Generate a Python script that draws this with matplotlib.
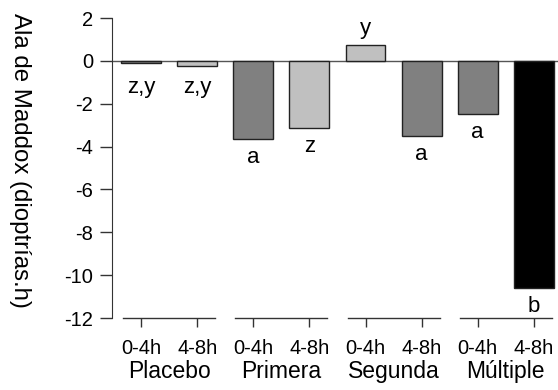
import numpy as np
import matplotlib.pyplot as plt
import matplotlib.transforms as mtransforms

plt.rcParams['font.family'] = ['Liberation Sans', 'DejaVu Sans']

groups = ['Placebo', 'Primera', 'Segunda', 'Múltiple']
periods = ['0-4h', '4-8h']
values = [-0.08, -0.25, -3.64, -3.12, 0.75, -3.50, -2.48, -10.6]
letters = ['z,y', 'z,y', 'a', 'z', 'y', 'a', 'a', 'b']
colors = ['#808080', '#c0c0c0', '#808080', '#c0c0c0',
          '#c0c0c0', '#808080', '#808080', '#000000']
yticks = [2, 0, -2, -4, -6, -8, -10, -12]

fig = plt.figure(figsize=(5.58, 3.90), dpi=100)
ax = fig.add_axes([112 / 558, 1 - 318 / 390, 1 - 112 / 558, 300 / 390])

x = np.arange(len(values))
ax.bar(x, values, width=0.71, color=colors, edgecolor='#222222', linewidth=1, zorder=3)
ax.axhline(0, color='#555555', linewidth=1, zorder=2)

ax.set_xlim(-0.517, 7.43)
ax.set_ylim(-12, 2)

for s in ['top', 'right', 'bottom']:
    ax.spines[s].set_visible(False)
ax.spines['left'].set_bounds(-12, 2)
ax.spines['left'].set_color('#333333')

ax.set_yticks(yticks)
ax.set_yticklabels([str(t) for t in yticks])
ax.tick_params(axis='y', direction='out', length=8.6, width=1, color='#333333',
               labelsize=14.5, pad=5)

ax.set_xticks(x)
ax.set_xticklabels(periods * len(groups))
ax.tick_params(axis='x', direction='out', length=6.5, width=1, color='#333333',
               labelsize=14.5, pad=8.5)

# segmented baseline under each group plus group names
trans = mtransforms.blended_transform_factory(ax.transData, ax.transAxes)
for i, g in enumerate(groups):
    a, b = 2 * i, 2 * i + 1
    ax.plot([a - 0.32, b + 0.32], [0, 0], transform=trans, color='#333333',
            linewidth=1, clip_on=False)
    ax.text((a + b) / 2, -0.2, g, transform=trans, ha='center', va='baseline',
            fontsize=16.5)

# significance letters
for xi, v, lab in zip(x, values, letters):
    if v > 0:
        ax.text(xi, v + 0.5, lab, ha='center', va='baseline', fontsize=16)
    else:
        ax.text(xi, min(v - 1.12, -1.5), lab, ha='center', va='baseline', fontsize=16)

fig.text(20 / 558, 1 - 160 / 390, 'Ala de Maddox (dioptrías.h)', rotation=270,
         ha='center', va='center', fontsize=17.3)

fig.savefig('out.png', dpi=100)
